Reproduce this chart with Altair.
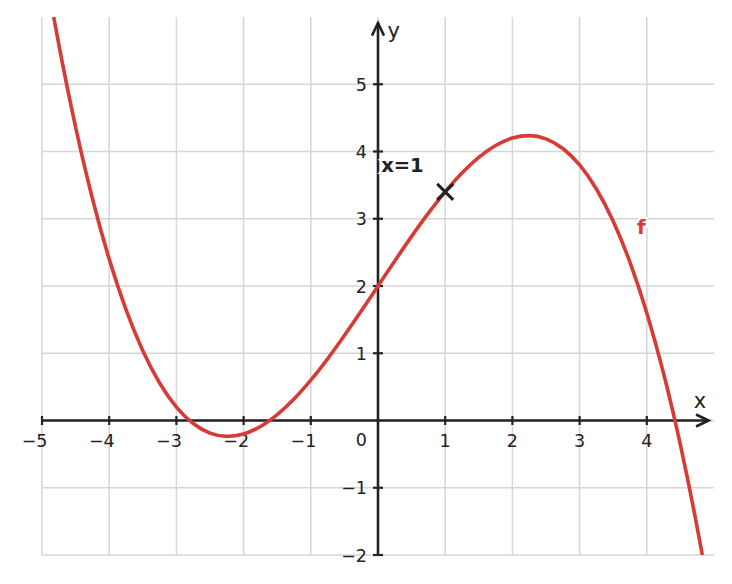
import altair as alt
import pandas as pd

# ---- values ----
curve_x = [-4.826, -4.75, -4.5, -4.25, -4.0, -3.75, -3.5, -3.25, -3.0, -2.75, -2.5, -2.25, -2.0,
           -1.75, -1.5, -1.25, -1.0, -0.75, -0.5, -0.25, 0.0, 0.25, 0.5, 0.75, 1.0, 1.25, 1.5,
           1.75, 2.0, 2.25, 2.5, 2.75, 3.0, 3.25, 3.5, 3.75, 4.0, 4.25, 4.5, 4.75, 4.826]
curve_y = [6.0, 5.592, 4.363, 3.302, 2.4, 1.648, 1.038, 0.558, 0.2, -0.045, -0.188, -0.236, -0.2,
           -0.089, 0.088, 0.320, 0.6, 0.917, 1.263, 1.627, 2.0, 2.373, 2.738, 3.083, 3.4, 3.680, 3.913,
           4.089, 4.2, 4.236, 4.188, 4.045, 3.8, 3.442, 2.963, 2.352, 1.6, 0.698, -0.363, -1.592, -2.0]

x_ticks = [-5, -4, -3, -2, -1, 1, 2, 3, 4]
x_tick_labels = ["−5", "−4", "−3", "−2", "−1", "1", "2", "3", "4"]
y_ticks = [-2, -1, 1, 2, 3, 4, 5]
y_tick_labels = ["−2", "−1", "1", "2", "3", "4", "5"]
grid_x = [-5, -4, -3, -2, -1, 0, 1, 2, 3, 4]
grid_y = [-2, -1, 0, 1, 2, 3, 4, 5]

point_x = [1.0]
point_y = [3.4]
point_label = ["x=1"]
func_label = ["f"]

X_MIN, X_MAX, Y_MIN, Y_MAX = -5, 5, -2, 6

RED = "#d63b35"
INK = "#222222"
GRID = "#d6d6d6"
FONT = "DejaVu Sans"

xs = alt.Scale(domain=[X_MIN, X_MAX], nice=False, zero=False)
ys = alt.Scale(domain=[Y_MIN, Y_MAX], nice=False, zero=False)


def X(f):
    return alt.X(f, type="quantitative", scale=xs, axis=None)


def Y(f):
    return alt.Y(f, type="quantitative", scale=ys, axis=None)


# grid
gv = pd.DataFrame({"x": grid_x, "y0": Y_MIN, "y1": Y_MAX})
gh = pd.DataFrame({"y": grid_y, "x0": X_MIN, "x1": X_MAX})
grid_v = alt.Chart(gv).mark_rule(color=GRID, strokeWidth=1.5).encode(x=X("x"), y=Y("y0"), y2="y1")
grid_h = alt.Chart(gh).mark_rule(color=GRID, strokeWidth=1.5).encode(y=Y("y"), x=X("x0"), x2="x1")

# axes lines
ax_df = pd.DataFrame({"x0": [X_MIN, 0.0], "x1": [4.92, 0.0], "y0": [0.0, Y_MIN], "y1": [0.0, 5.91]})
axes = alt.Chart(ax_df).mark_rule(color=INK, strokeWidth=2.6).encode(
    x=X("x0"), x2="x1", y=Y("y0"), y2="y1")

base = alt.Chart(pd.DataFrame({"k": [0]}))
arrow_x = base.mark_point(shape="M -2.1 -1 L 0 0 L -2.1 1", filled=False, size=144,
                          color=INK, strokeWidth=2.6, opacity=1).encode(
    x=alt.X(datum=4.92, scale=xs, axis=None), y=alt.Y(datum=0, scale=ys, axis=None))
arrow_y = base.mark_point(shape="M -1 2.1 L 0 0 L 1 2.1", filled=False, size=144,
                          color=INK, strokeWidth=2.6, opacity=1).encode(
    x=alt.X(datum=0, scale=xs, axis=None), y=alt.Y(datum=5.91, scale=ys, axis=None))

# ticks
xt = pd.DataFrame({"x": x_ticks, "lab": x_tick_labels, "y": 0})
yt = pd.DataFrame({"y": y_ticks, "lab": y_tick_labels, "x": 0})
ticks_x = alt.Chart(xt).mark_tick(orient="vertical", size=9, thickness=2.2, color=INK, opacity=1).encode(
    x=X("x"), y=Y("y"))
ticks_y = alt.Chart(yt).mark_tick(orient="horizontal", size=10, thickness=2.2, color=INK, opacity=1).encode(
    x=X("x"), y=Y("y"))

lab_x = alt.Chart(xt).mark_text(font=FONT, fontSize=17.5, color=INK, align="right", baseline="alphabetic",
                                dx=5.5, dy=26).encode(x=X("x"), y=Y("y"), text="lab:N")
lab_y = alt.Chart(yt).mark_text(font=FONT, fontSize=17.5, color=INK, align="right", baseline="alphabetic",
                                dx=-11, dy=6.5).encode(x=X("x"), y=Y("y"), text="lab:N")
lab_0 = base.mark_text(font=FONT, fontSize=17.5, color=INK, align="right", baseline="alphabetic",
                       dx=-11, dy=25, text="0").encode(
    x=alt.X(datum=0, scale=xs, axis=None), y=alt.Y(datum=0, scale=ys, axis=None))

title_x = base.mark_text(font=FONT, fontSize=21, color=INK, align="center", baseline="alphabetic",
                         text="x").encode(
    x=alt.X(datum=4.79, scale=xs, axis=None), y=alt.Y(datum=0.19, scale=ys, axis=None))
title_y = base.mark_text(font=FONT, fontSize=21, color=INK, align="left", baseline="alphabetic",
                         text="y").encode(
    x=alt.X(datum=0.14, scale=xs, axis=None), y=alt.Y(datum=5.69, scale=ys, axis=None))

# curve
cdf = pd.DataFrame({"x": curve_x, "y": curve_y})
curve = alt.Chart(cdf).mark_line(color=RED, strokeWidth=3.6, interpolate="monotone", clip=True).encode(
    x=X("x"), y=Y("y"), order="x:Q")

# marked point
pdf = pd.DataFrame({"x": point_x, "y": point_y, "lab": point_label})
marker = alt.Chart(pdf).mark_point(shape="M -1 -1 L 1 1 M -1 1 L 1 -1", filled=False, size=256,
                                   color=INK, strokeWidth=3, opacity=1).encode(x=X("x"), y=Y("y"))
pl_halo = alt.Chart(pdf).mark_text(font=FONT, fontSize=19.5, fontWeight="bold", color="white",
                                   stroke="white", strokeWidth=4, align="left", baseline="alphabetic",
                                   dx=-64, dy=-20).encode(x=X("x"), y=Y("y"), text="lab:N")
pl_text = alt.Chart(pdf).mark_text(font=FONT, fontSize=19.5, fontWeight="bold", color=INK,
                                   align="left", baseline="alphabetic",
                                   dx=-64, dy=-20).encode(x=X("x"), y=Y("y"), text="lab:N")

fdf = pd.DataFrame({"lab": func_label})
f_halo = alt.Chart(fdf).mark_text(font=FONT, fontSize=20, fontWeight="bold", color="white",
                                  stroke="white", strokeWidth=4, align="center", baseline="alphabetic").encode(
    x=alt.X(datum=3.92, scale=xs, axis=None), y=alt.Y(datum=2.77, scale=ys, axis=None), text="lab:N")
f_text = alt.Chart(fdf).mark_text(font=FONT, fontSize=20, fontWeight="bold", color=RED,
                                  align="center", baseline="alphabetic").encode(
    x=alt.X(datum=3.92, scale=xs, axis=None), y=alt.Y(datum=2.77, scale=ys, axis=None), text="lab:N")

chart = alt.layer(
    grid_v, grid_h, axes, arrow_x, arrow_y, ticks_x, ticks_y, lab_x, lab_y, lab_0,
    title_x, title_y, curve, f_halo, f_text, pl_halo, pl_text, marker
).properties(
    width=672, height=538,
    autosize=alt.AutoSizeParams(type="none"),
    padding={"left": 42, "top": 17, "right": 18, "bottom": 29},
    background="white",
).configure_view(stroke=None)

chart.save("out.html", embed_options={"renderer": "svg", "actions": False})
